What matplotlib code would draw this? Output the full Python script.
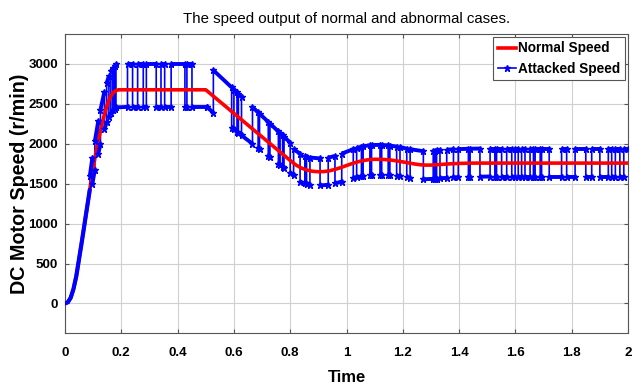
import matplotlib
matplotlib.use('Agg')
import matplotlib.pyplot as plt
from matplotlib.lines import Line2D

# normal speed curve (time, r/min)
normal_t = [0, 0.01, 0.02, 0.03, 0.04, 0.05, 0.06, 0.07, 0.08, 0.09, 0.10, 0.11,
            0.12, 0.13, 0.14, 0.15, 0.16, 0.17, 0.18, 0.19, 0.50, 0.80, 0.82, 0.84,
            0.86, 0.88, 0.90, 0.92, 0.94, 0.96, 0.98, 1.00, 1.02, 1.04, 1.06, 1.08,
            1.10, 1.12, 1.14, 1.16, 1.18, 1.20, 1.22, 1.24, 1.26, 1.28, 1.30, 1.32,
            1.34, 1.36, 1.40, 1.45, 2.00]
normal_v = [0, 15, 70, 180, 340, 560, 780, 1010, 1240, 1470, 1690, 1900,
            2070, 2230, 2370, 2490, 2580, 2635, 2665, 2676, 2676, 1791, 1735, 1695,
            1670, 1655, 1650, 1652, 1662, 1680, 1702, 1728, 1752, 1774, 1790, 1801,
            1806, 1805, 1802, 1795, 1785, 1773, 1760, 1748, 1738, 1733, 1733, 1737,
            1742, 1747, 1754, 1758, 1758]

# attacked speed: start follows the normal curve, then switching runs
attack_start_t = [0, 0.01, 0.02, 0.03, 0.04, 0.05, 0.06, 0.07, 0.08, 0.088]
attack_start_v = [0, 15, 70, 180, 340, 560, 780, 1010, 1240, 1424]

# (t start, t end, v start, v end) of each run between jumps
attack_runs = [
    (0.088, 0.097, 1595, 1819), (0.097, 0.106, 1494, 1671),
    (0.106, 0.118, 2034, 2280), (0.118, 0.126, 1873, 1993),
    (0.126, 0.140, 2426, 2654), (0.140, 0.148, 2180, 2269),
    (0.148, 0.156, 2762, 2849), (0.156, 0.163, 2340, 2389),
    (0.163, 0.170, 2909, 2951), (0.170, 0.176, 2424, 2441),
    (0.176, 0.181, 2971, 3000), (0.181, 0.222, 2455, 2462),
    (0.222, 0.240, 3000, 3000), (0.240, 0.258, 2462, 2462),
    (0.258, 0.278, 3000, 3000), (0.278, 0.289, 2462, 2462),
    (0.289, 0.324, 3000, 3000), (0.324, 0.341, 2462, 2462),
    (0.341, 0.354, 3000, 3000), (0.354, 0.377, 2462, 2462),
    (0.377, 0.426, 3000, 3000), (0.426, 0.433, 2462, 2462),
    (0.433, 0.451, 3000, 3000), (0.451, 0.503, 2462, 2462),
    (0.503, 0.527, 2462, 2390),
    (0.527, 0.592, 2921, 2706), (0.592, 0.600, 2201, 2179),
    (0.600, 0.611, 2679, 2643), (0.611, 0.616, 2149, 2136),
    (0.616, 0.627, 2626, 2589), (0.627, 0.666, 2105, 2000),
    (0.666, 0.686, 2459, 2393), (0.686, 0.691, 1946, 1933),
    (0.691, 0.722, 2377, 2274), (0.722, 0.728, 1849, 1833),
    (0.728, 0.758, 2253, 2154), (0.758, 0.764, 1752, 1736),
    (0.764, 0.773, 2134, 2105), (0.773, 0.778, 1712, 1698),
    (0.778, 0.800, 2088, 2015), (0.800, 0.812, 1639, 1608),
    (0.812, 0.835, 1933, 1876), (0.835, 0.852, 1526, 1504),
    (0.852, 0.858, 1848, 1840), (0.858, 0.870, 1497, 1487),
    (0.870, 0.906, 1828, 1816), (0.906, 0.935, 1478, 1486),
    (0.935, 0.959, 1826, 1847), (0.959, 0.983, 1503, 1527),
    (0.983, 1.024, 1877, 1932), (1.024, 1.036, 1572, 1584),
    (1.036, 1.053, 1947, 1962), (1.053, 1.059, 1597, 1601),
    (1.059, 1.083, 1968, 1982), (1.083, 1.089, 1613, 1615),
    (1.089, 1.119, 1984, 1986), (1.119, 1.125, 1615, 1615),
    (1.125, 1.148, 1984, 1980), (1.148, 1.154, 1611, 1608),
    (1.154, 1.178, 1977, 1965), (1.178, 1.190, 1598, 1592),
    (1.190, 1.214, 1957, 1940), (1.214, 1.226, 1579, 1572),
    (1.226, 1.273, 1932, 1907),
    (1.273, 1.308, 1556, 1560), (1.308, 1.314, 1915, 1915),
    (1.314, 1.320, 1562, 1562), (1.320, 1.332, 1918, 1920),
    (1.332, 1.356, 1568, 1572), (1.356, 1.380, 1925, 1930),
    (1.380, 1.397, 1578, 1580), (1.397, 1.433, 1933, 1937),
    (1.433, 1.439, 1584, 1585), (1.439, 1.474, 1938, 1940),
    (1.474, 1.510, 1588, 1590), (1.510, 1.527, 1940, 1940),
    (1.527, 1.533, 1590, 1590), (1.533, 1.551, 1940, 1940),
    (1.551, 1.569, 1590, 1590), (1.569, 1.587, 1940, 1940),
    (1.587, 1.599, 1590, 1590), (1.599, 1.610, 1940, 1940),
    (1.610, 1.622, 1590, 1590), (1.622, 1.634, 1940, 1940),
    (1.634, 1.652, 1590, 1590), (1.652, 1.664, 1940, 1940),
    (1.664, 1.670, 1590, 1590), (1.670, 1.688, 1940, 1940),
    (1.688, 1.693, 1590, 1590), (1.693, 1.720, 1940, 1940),
    (1.720, 1.764, 1590, 1590), (1.764, 1.782, 1940, 1940),
    (1.782, 1.812, 1590, 1590), (1.812, 1.850, 1940, 1940),
    (1.850, 1.871, 1590, 1590), (1.871, 1.900, 1940, 1940),
    (1.900, 1.930, 1590, 1590), (1.930, 1.942, 1940, 1940),
    (1.942, 1.955, 1590, 1590), (1.955, 1.971, 1940, 1940),
    (1.971, 1.985, 1590, 1590), (1.985, 2.000, 1940, 1940),
]

xticks = [0, 0.2, 0.4, 0.6, 0.8, 1, 1.2, 1.4, 1.6, 1.8, 2]
xticklabels = ['0', '0.2', '0.4', '0.6', '0.8', '1', '1.2', '1.4', '1.6', '1.8', '2']
yticks = [0, 500, 1000, 1500, 2000, 2500, 3000]

font = ['Liberation Sans', 'DejaVu Sans']

fig = plt.figure(figsize=(6.43, 3.84), dpi=100)
ax = fig.add_axes([0.1011, 0.1328, 0.8756, 0.7787])

# thin line through every vertex (jumps included)
vt = list(attack_start_t)
vv = list(attack_start_v)
for t0, t1, v0, v1 in attack_runs:
    vt += [t0, t1]
    vv += [v0, v1]
ax.plot(vt, vv, color='blue', lw=1.2, zorder=2)

ax.plot(normal_t, normal_v, color='red', lw=2.6, zorder=3)

# dense sample markers look like thick runs
ax.plot(attack_start_t, attack_start_v, color='blue', lw=3.0, zorder=4,
        solid_capstyle='round')
for t0, t1, v0, v1 in attack_runs:
    ax.plot([t0, t1], [v0, v1], color='blue', lw=2.8, zorder=4,
            solid_capstyle='butt', marker='*', ms=4.5, markevery=[0, 1])

ax.set_xlim(0, 2)
ax.set_ylim(-370, 3375)
ax.set_xticks(xticks)
ax.set_xticklabels(xticklabels)
ax.set_yticks(yticks)
for lab in ax.get_xticklabels() + ax.get_yticklabels():
    lab.set_family(font)
    lab.set_fontweight('bold')
    lab.set_fontsize(9.6)
ax.tick_params(direction='in', length=3, top=True, right=True, color='#555555')
ax.tick_params(axis='x', pad=10)
ax.tick_params(axis='y', pad=5)
ax.grid(True, color='#d0d0d0', lw=0.8)
ax.set_axisbelow(True)
for s in ax.spines.values():
    s.set_color('#555555')
    s.set_linewidth(0.8)

ax.set_title('The speed output of normal and abnormal cases.', family=font,
             fontsize=10.8, pad=8)
ax.set_xlabel('Time', family=font, fontweight='bold', fontsize=12)
ax.xaxis.set_label_coords(0.5, -0.125)
ax.set_ylabel('DC Motor Speed (r/min)', family=font, fontweight='bold', fontsize=14.2)
ax.yaxis.set_label_coords(-0.064, 0.5)

handles = [Line2D([], [], color='red', lw=2.6),
           Line2D([], [], color='blue', lw=1.2, marker='*', ms=5)]
leg = ax.legend(handles, ['Normal Speed', 'Attacked Speed'], loc='upper right',
                prop={'family': font, 'weight': 'bold', 'size': 9.8},
                fancybox=False, framealpha=1, edgecolor='#555555',
                handlelength=1.3, handletextpad=0.2, borderpad=0.35,
                labelspacing=0.45, borderaxespad=0.2)
leg.get_frame().set_linewidth(0.8)

fig.savefig('out.png', dpi=100)
